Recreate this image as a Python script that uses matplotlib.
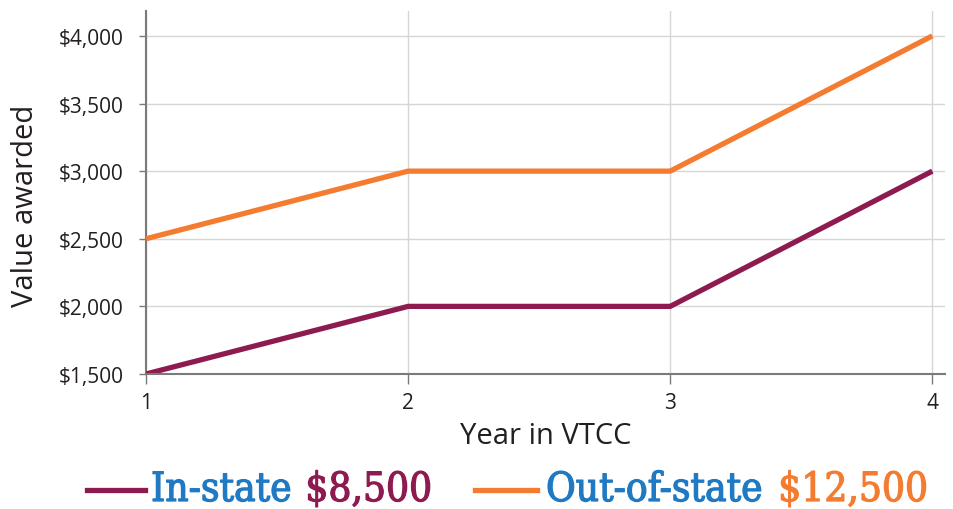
"""Value awarded by year in VTCC, in-state vs out-of-state."""
import matplotlib
matplotlib.use("Agg")
import matplotlib.pyplot as plt
import matplotlib.patheffects as pe
from matplotlib.ticker import FuncFormatter

years = [1, 2, 3, 4]
in_state = [1500, 2000, 2000, 3000]
out_of_state = [2500, 3000, 3000, 4000]
y_ticks = [1500, 2000, 2500, 3000, 3500, 4000]

PURPLE = "#8E1B50"
ORANGE = "#F47C30"
BLUE = "#1F7AC3"
GRID = "#D6D6D6"
SPINE = "#7A7A7A"
TEXT = "#231F20"

plt.rcParams["font.family"] = ["Open Sans", "DejaVu Sans"]

fig = plt.figure(figsize=(9.54, 5.10), dpi=100)
ax = fig.add_axes([0.153, 0.2647, 0.838, 0.712])

ax.plot(years, out_of_state, color=ORANGE, lw=3.8, solid_capstyle="butt", zorder=3)
ax.plot(years, in_state, color=PURPLE, lw=3.8, solid_capstyle="butt", zorder=3)

ax.set_xlim(1, 4.05)
ax.set_ylim(1500, 4185)
ax.set_xticks(years)
ax.set_yticks(y_ticks)
ax.yaxis.set_major_formatter(FuncFormatter(lambda v, _: f"${v:,.0f}"))
ax.grid(True, color=GRID, lw=1)
ax.set_axisbelow(True)

for side in ("top", "right"):
    ax.spines[side].set_visible(False)
for side in ("left", "bottom"):
    ax.spines[side].set_color(SPINE)
    ax.spines[side].set_linewidth(1.5)
ax.spines["bottom"].set_zorder(4)

ax.tick_params(axis="both", colors=SPINE, length=7, width=1, labelsize=15,
               labelcolor=TEXT)
ax.tick_params(axis="y", pad=11, length=5)
ax.tick_params(axis="x", pad=6)
ax.set_xlabel("Year in VTCC", fontsize=21, color=TEXT, labelpad=6)
ax.set_ylabel("Value awarded", fontsize=21, color=TEXT)
ax.yaxis.set_label_coords(-0.132, 0.466)

# legend built from coloured text pieces, laid end to end
leg_font = dict(family=["DejaVu Serif", "DejaVu Sans"], fontstretch="condensed",
                fontsize=29, va="baseline")
y_leg = 1 - 502 / 510
y_line = 1 - 491 / 510
fig.canvas.draw()
renderer = fig.canvas.get_renderer()


def chain(x0, pieces):
    x = x0
    for txt, col, gap in pieces:
        t = fig.text(x / 954, y_leg, txt, color=col, **leg_font)
        t.set_path_effects([pe.withStroke(linewidth=0.9, foreground=col)])
        x = t.get_window_extent(renderer).x1 + gap
    return x


fig.add_artist(plt.Line2D([87 / 954, 145 / 954], [y_line, y_line], color=PURPLE, lw=3.8))
chain(151, [("In-state", BLUE, 14), ("$8,500", PURPLE, 0)])
fig.add_artist(plt.Line2D([475 / 954, 537 / 954], [y_line, y_line], color=ORANGE, lw=3.8))
chain(546, [("Out-of-state", BLUE, 16), ("$12,500", ORANGE, 0)])

fig.savefig("out.png", dpi=100)
plt.close(fig)
